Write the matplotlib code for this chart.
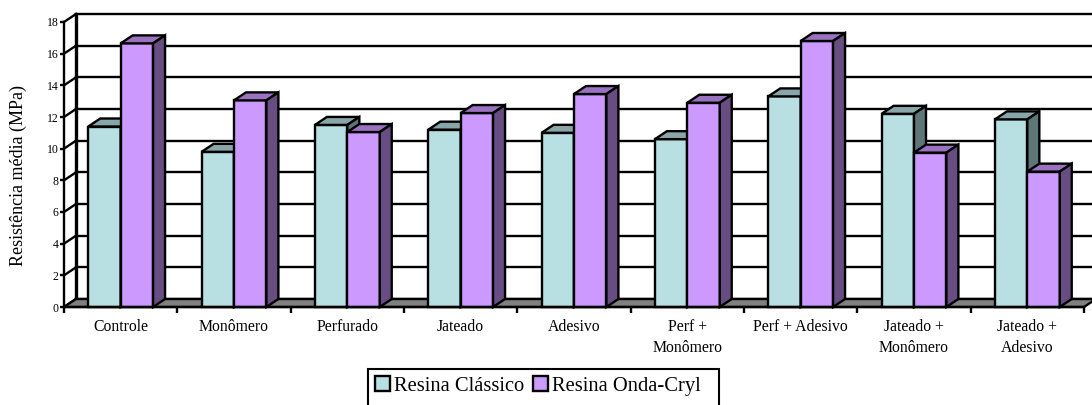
import matplotlib
matplotlib.use("Agg")
import matplotlib.pyplot as plt
from matplotlib.patches import Polygon, Rectangle, Patch

categorias = ["Controle", "Monômero", "Perfurado", "Jateado", "Adesivo",
              "Perf +\nMonômero", "Perf + Adesivo", "Jateado +\nMonômero", "Jateado +\nAdesivo"]
classico = [11.4, 9.8, 11.5, 11.2, 11.0, 10.6, 13.3, 12.2, 11.85]
onda_cryl = [16.65, 13.05, 11.05, 12.25, 13.45, 12.9, 16.8, 9.75, 8.55]
yticks = [0, 2, 4, 6, 8, 10, 12, 14, 16, 18]
series_nomes = ["Resina Clássico", "Resina Onda-Cryl"]

# cores: frente, topo, lado
cor_a = ("#B8E0E3", "#88A5A7", "#5F7678")
cor_b = ("#CC99FF", "#9A72C0", "#674D81")

plt.rcParams["font.family"] = ["Liberation Serif", "DejaVu Serif"]

W, H = 1092, 405
fig = plt.figure(figsize=(W / 100, H / 100), dpi=100)
ax = fig.add_axes([64 / W, (H - 307) / H, 1020 / W, 285 / H])
n = len(categorias)
ax.set_xlim(0, n)
ax.set_ylim(0, 18)
for s in ax.spines.values():
    s.set_visible(False)

# profundidade do efeito 3D, em unidades dos eixos
dx = 12 / (1020 / n)
dy = 8 / (285 / 18)
larg = 32.4 / (1020 / n)
lw = 1.7


def linha(xs, ys, w=lw, z=1):
    ax.plot(xs, ys, color="black", lw=w, clip_on=False, zorder=z, solid_capstyle="projecting")


# parede de fundo e parede lateral
for v in yticks:
    linha([dx, n + dx], [v + dy, v + dy])
    linha([0, dx], [v, v + dy])
linha([0, 0], [0, 18])
linha([dx, dx], [dy, 18 + dy], w=2.4)

# piso
ax.add_patch(Polygon([(0, 0), (n, 0), (n + dx, dy), (dx, dy)], closed=True, facecolor="#808080",
                     edgecolor="black", lw=lw, clip_on=False, zorder=2))


def barra3d(x, v, cores, z):
    ax.bar(x, v, width=larg, align="edge", color=cores[0], edgecolor="black", lw=lw, clip_on=False, zorder=z)
    ax.add_patch(Polygon([(x, v), (x + larg, v), (x + larg + dx, v + dy), (x + dx, v + dy)], closed=True,
                         facecolor=cores[1], edgecolor="black", lw=lw, clip_on=False, zorder=z))
    ax.add_patch(Polygon([(x + larg, 0), (x + larg + dx, dy), (x + larg + dx, v + dy), (x + larg, v)], closed=True,
                         facecolor=cores[2], edgecolor="black", lw=lw, clip_on=False, zorder=z))


for i in range(n):
    barra3d(i + 0.5 - larg, classico[i], cor_a, 3 + i * 2)
    barra3d(i + 0.5, onda_cryl[i], cor_b, 4 + i * 2)

linha([0, n], [0, 0], z=40)

ax.set_yticks(yticks)
ax.tick_params(axis="y", labelsize=8.5, length=3, width=lw, pad=1)
ax.set_xticks(range(n + 1))
ax.set_xticklabels([])
ax.set_xticks([i + 0.5 for i in range(n)], minor=True)
ax.set_xticklabels(categorias, minor=True, fontsize=11.3, linespacing=1.45)
ax.tick_params(axis="x", which="major", length=4, width=lw)
ax.tick_params(axis="x", which="minor", length=0, pad=8.5)
ax.set_ylabel("Resistência média (MPa)", fontsize=13)
ax.yaxis.set_label_coords(-37 / 1020, 0.461)

# caixa da legenda (passa da borda inferior da figura)
fig.add_artist(Rectangle((367.5 / W, -10 / H), 351 / W, (H - 369 + 10) / H, transform=fig.transFigure,
                         facecolor="white", edgecolor="black", lw=1.5))
handles = [Patch(facecolor=cor_a[0], edgecolor="black", lw=1.7, label=series_nomes[0]),
           Patch(facecolor=cor_b[0], edgecolor="black", lw=1.7, label=series_nomes[1])]
fig.legend(handles=handles, loc="center", bbox_to_anchor=(538 / W, (H - 386) / H), ncol=2, frameon=False,
           fontsize=14.8, handlelength=0.7, handleheight=0.7, handletextpad=0.2, columnspacing=0.45,
           borderpad=0, borderaxespad=0)

fig.savefig("out.png", dpi=100)
